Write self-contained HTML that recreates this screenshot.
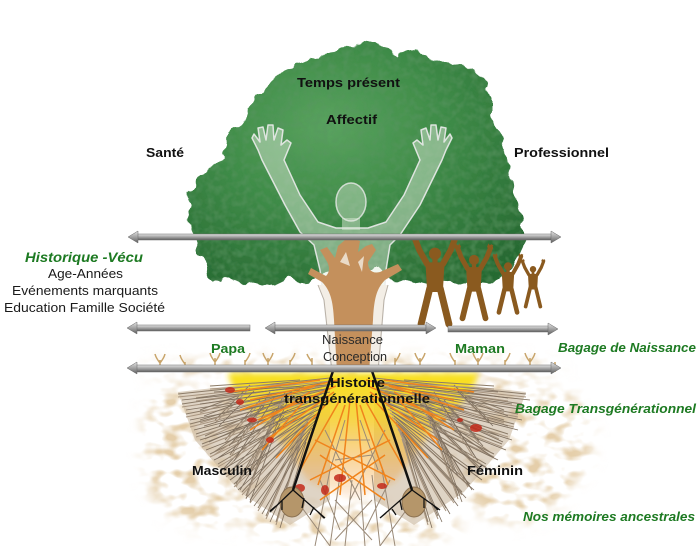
<!DOCTYPE html>
<html><head><meta charset="utf-8"><style>
html,body{margin:0;padding:0;background:#fff;}
svg{display:block;}
text{font-family:"Liberation Sans",Arial,sans-serif;}
</style></head><body>
<svg width="700" height="546" viewBox="0 0 700 546" xmlns="http://www.w3.org/2000/svg">
<defs>
 <radialGradient id="cg" cx="0.42" cy="0.35" r="0.75">
  <stop offset="0" stop-color="#5aa35f"/>
  <stop offset="0.45" stop-color="#3f8c48"/>
  <stop offset="1" stop-color="#286a33"/>
 </radialGradient>
 <linearGradient id="ag" x1="0" y1="0" x2="0" y2="1">
  <stop offset="0" stop-color="#e4e4e4"/>
  <stop offset="0.45" stop-color="#a9a9a9"/>
  <stop offset="1" stop-color="#5e5e5e"/>
 </linearGradient>
 <linearGradient id="yg" x1="0" y1="0" x2="0" y2="1">
  <stop offset="0" stop-color="#f8e11e" stop-opacity="1"/>
  <stop offset="0.35" stop-color="#f6cf24" stop-opacity="0.85"/>
  <stop offset="0.7" stop-color="#f3a830" stop-opacity="0.45"/>
  <stop offset="1" stop-color="#f08a20" stop-opacity="0.1"/>
 </linearGradient>
 <filter id="leaf" filterUnits="userSpaceOnUse" x="150" y="20" width="420" height="290">
  <feTurbulence type="fractalNoise" baseFrequency="0.07" numOctaves="2" seed="2" result="t"/>
  <feDisplacementMap in="SourceGraphic" in2="t" scale="14" xChannelSelector="R" yChannelSelector="G" result="d"/>
  <feTurbulence type="fractalNoise" baseFrequency="0.14" numOctaves="2" seed="5" result="t2"/>
  <feColorMatrix in="t2" type="matrix" values="0 0 0 0 0.1  0 0 0 0 0.3  0 0 0 0 0.12  1.2 0 0 0 -0.45" result="dark"/>
  <feComposite in="dark" in2="d" operator="in" result="dk"/>
  <feMerge><feMergeNode in="d"/><feMergeNode in="dk"/></feMerge>
 </filter>
 <filter id="speck" filterUnits="userSpaceOnUse" x="0" y="300" width="700" height="246">
  <feGaussianBlur in="SourceAlpha" stdDeviation="8" result="m"/>
  <feTurbulence type="fractalNoise" baseFrequency="0.055 0.085" numOctaves="2" seed="7" result="n"/>
  <feColorMatrix in="n" type="matrix" values="0 0 0 0 0.78  0 0 0 0 0.62  0 0 0 0 0.40  4 0 0 0 -1.9" result="s"/>
  <feComposite in="s" in2="m" operator="in"/>
 </filter>
 <filter id="soft" x="-10%" y="-10%" width="120%" height="120%"><feGaussianBlur stdDeviation="3"/></filter>
 <g id="fig">
  <g stroke="#8a5a1f" stroke-linecap="round" stroke-linejoin="round" fill="none">
   <polyline points="-23,1 -18,14 -9,30" stroke-width="7"/>
   <polyline points="23,1 18,14 9,30" stroke-width="7"/>
   <line x1="-6" y1="58" x2="-16" y2="99" stroke-width="8"/>
   <line x1="6" y1="58" x2="16" y2="99" stroke-width="8"/>
  </g>
  <g fill="#8a5a1f">
   <circle cx="0" cy="18" r="7"/>
   <rect x="-3" y="22" width="6" height="8"/>
   <path d="M-11,28 L11,28 L10,45 L9,62 L-9,62 L-10,45 Z"/>
   <path d="M-27,-2 L-24,-4 L-22,-2 L-20,-5 L-18,0 L-22,4 Z"/>
   <path d="M27,-2 L24,-4 L22,-2 L20,-5 L18,0 L22,4 Z"/>
  </g>
 </g>
 <path id="fib" d="M330,378 L178,394 M328,382 L182,404 M326,386 L186,414 M324,390 L190,424 M322,394 L196,434 M320,398 L202,444 M318,402 L210,454 M316,406 L218,464 M314,410 L226,474 M312,414 L234,484 M310,418 L242,492 M308,422 L250,500 M306,426 L258,508 M304,430 L266,516 M302,436 L276,522 M300,380 L210,386 M296,384 L196,398 M292,392 L200,420 M288,398 L205,436 M284,404 L214,452 M280,410 L224,468 M276,418 L236,484 M272,424 L246,496 M250,385 L215,420 M260,400 L225,440 M240,395 L200,410 M270,392 L230,455 M285,392 L250,470
M374,378 L526,394 M376,382 L522,404 M378,386 L518,414 M380,390 L514,424 M382,394 L508,434 M384,398 L502,444 M386,402 L494,454 M388,406 L486,464 M390,410 L478,474 M392,414 L470,484 M394,418 L462,492 M396,422 L454,500 M398,426 L446,508 M400,430 L438,516 M402,436 L428,522 M404,380 L494,386 M408,384 L508,398 M412,392 L504,420 M416,398 L499,436 M420,404 L490,452 M424,410 L480,468 M428,418 L468,484 M432,424 L458,496 M454,385 L489,420 M444,400 L479,440 M464,395 L504,410 M434,392 L474,455 M419,392 L454,470"/>
</defs>

<!-- root speck clouds -->
<g filter="url(#speck)" fill="#000">
 <ellipse cx="205" cy="460" rx="60" ry="68"/>
 <ellipse cx="175" cy="420" rx="30" ry="35"/>
 <ellipse cx="515" cy="450" rx="65" ry="72"/>
 <ellipse cx="560" cy="440" rx="32" ry="48"/>
 <ellipse cx="350" cy="525" rx="110" ry="20"/>
 <ellipse cx="352" cy="368" rx="210" ry="10"/>
</g>

<!-- canopy -->
<path filter="url(#leaf)" fill="url(#cg)" d="M214,283 L206,270 L200,256 L196,242 L190,228 L187,212 L189,198 L194,186 L200,176 L212,168 L222,160 L226,148 L228,135 L236,127 L246,120 L250,108 L256,96 L266,84 L280,74 L290,66 L304,62 L318,58 L326,52 L340,50 L350,46 L362,41 L376,42 L386,48 L396,56 L408,54 L420,52 L432,60 L446,64 L462,66 L476,72 L486,82 L492,96 L492,112 L494,126 L500,138 L506,152 L508,168 L514,184 L516,200 L520,214 L524,228 L524,242 L520,256 L512,266 L504,276 L492,282 L478,280 L466,285 L450,282 L436,286 L420,282 L404,284 L390,278 L378,270 L330,270 L318,280 L300,284 L286,280 L270,285 L256,281 L240,285 L228,280 Z"/>

<!-- ghost figure -->
<path fill="rgba(225,238,220,0.45)" stroke="rgba(235,235,235,0.9)" stroke-width="1.5" stroke-linejoin="round" d="M262,160 L258,150 L252,138 L254,134 L260,142 L258,128 L263,127 L266,140 L268,125 L273,125 L274,140 L278,128 L283,130 L281,145 L287,140 L291,143 L284,160 L300,195 L318,222 L336,228 L368,228 L386,222 L404,195 L420,160 L413,143 L417,140 L423,145 L421,130 L426,128 L430,140 L431,125 L436,125 L438,140 L441,127 L446,128 L444,142 L450,134 L452,138 L446,150 L442,160 L420,205 L400,235 L390,245 L386,270 L384,300 L378,372 L332,372 L324,300 L320,270 L314,245 L300,232 L285,205 Z"/>
<ellipse cx="351" cy="202" rx="15" ry="19" fill="rgba(225,238,220,0.4)" stroke="rgba(235,235,235,0.8)" stroke-width="1.5"/>
<rect x="342" y="218" width="18" height="12" fill="rgba(225,238,220,0.45)"/>
<path d="M318,285 L324,300 L332,372 L378,372 L384,300 L388,285 Z" fill="#f3eee6"/>
<path d="M318,285 L324,300 L332,372 M388,285 L384,300 L378,372" fill="none" stroke="#b8b0a6" stroke-width="1"/>

<!-- trunk -->
<path fill="#c4905c" d="M337,372 L334,320 C333,300 330,290 322,282 L308,274 L311,268 L326,276 C330,272 330,266 326,260 L320,250 L327,247 L335,258 L338,246 L345,240 L352,238 L360,241 L358,252 L366,246 L372,244 L376,250 L368,262 C368,270 372,274 380,272 L398,264 L402,270 L385,280 C377,288 374,298 373,320 L369,372 Z"/>
<path fill="#f4ede4" opacity="0.8" d="M340,262 L346,252 L350,266 Z M358,262 L364,256 L362,272 Z"/>

<!-- brown figures -->
<use href="#fig" transform="translate(435,238) scale(0.87)"/>
<use href="#fig" transform="translate(474,247) scale(0.72)"/>
<use href="#fig" transform="translate(508,256) scale(0.57)"/>
<use href="#fig" transform="translate(533,261) scale(0.46)"/>

<!-- roots: base tone -->
<path fill="#c9b89e" opacity="0.6" d="M330,375 L178,392 L195,440 L240,492 L290,525 L330,500 Z M374,375 L526,392 L509,440 L464,492 L414,525 L374,500 Z"/>
<path fill="url(#yg)" filter="url(#soft)" d="M228,373 L478,373 C474,395 455,410 432,430 L395,482 L352,500 L309,482 L272,430 C250,410 232,395 228,373 Z"/>
<!-- brown fibers -->
<use href="#fib" fill="none" stroke="#8c7c69" stroke-width="1"/>
<use href="#fib" fill="none" stroke="#a89580" stroke-width="1" transform="translate(0,3)"/>
<use href="#fib" fill="none" stroke="#7d6e5e" stroke-width="0.8" transform="translate(4,6)"/>
<path fill="none" stroke="#9a8a78" stroke-width="1" d="M330,470 L315,546 M340,475 L330,546 M352,480 L345,546 M360,480 L365,546 M372,475 L380,546 M382,470 L395,546 M320,480 L340,530 M390,480 L365,530 M300,505 L330,546 M410,505 L380,546 M335,500 L372,540 M372,500 L335,540 M345,420 L330,470 M360,420 L378,470 M340,440 L370,440 M335,460 L372,455 M325,430 L360,500 M385,430 L350,500"/>
<!-- orange fibers -->
<path fill="none" stroke="#f0841c" stroke-width="1.5" d="M338,380 L250,400 M336,386 L258,420 M334,392 L266,440 M332,398 L276,458 M340,400 L300,470 M345,405 L318,485 M350,400 L340,495 M356,400 L365,495 M360,405 L388,485 M365,400 L405,470 M372,398 L428,458 M370,392 L438,440 M368,386 L446,420 M366,380 L454,400 M315,440 L395,480 M390,440 L310,480 M320,455 L385,500 M385,455 L320,500 M320,380 L230,392 M315,386 L240,410 M310,392 L250,430 M305,400 L262,450 M384,380 L474,392 M389,386 L464,410 M394,392 L454,430 M399,400 L442,450"/>
<!-- red patches -->
<g fill="#c42a1a" opacity="0.85">
 <ellipse cx="230" cy="390" rx="5" ry="3"/><ellipse cx="240" cy="402" rx="4" ry="3"/>
 <ellipse cx="252" cy="420" rx="5" ry="2.5"/><ellipse cx="270" cy="440" rx="4" ry="3"/>
 <ellipse cx="300" cy="488" rx="5" ry="4"/><ellipse cx="340" cy="478" rx="6" ry="4"/>
 <ellipse cx="382" cy="486" rx="5" ry="3"/><ellipse cx="476" cy="428" rx="6" ry="4"/>
 <ellipse cx="325" cy="490" rx="4" ry="5"/><ellipse cx="460" cy="420" rx="3" ry="2"/>
</g>
<!-- sprouts along arrow -->
<path fill="none" stroke="#c8a46a" stroke-width="1.5" d="M160,370 L160,360 M160,363 Q156,358 155,354 M160,363 Q164,358 165,354 M185,372 L185,362 M185,364 Q181,359 180,355 M215,370 L215,358 M215,362 Q211,357 210,353 M215,362 Q219,357 220,353 M245,370 L245,360 M245,362 Q249,357 250,353 M268,370 L268,358 M268,362 Q264,357 263,353 M268,362 Q272,357 273,353 M290,370 L290,360 M290,362 Q294,357 295,353 M312,370 L312,358 M312,362 Q308,357 307,354 M395,370 L395,358 M395,362 Q399,357 400,353 M420,370 L420,358 M420,362 Q416,357 415,353 M420,362 Q424,357 425,353 M455,370 L455,360 M455,362 Q451,357 450,353 M478,370 L478,358 M478,362 Q482,357 483,353 M478,362 Q474,357 473,353 M505,370 L505,360 M505,362 Q509,357 510,353 M530,370 L530,358 M530,362 Q526,357 525,353 M530,362 Q534,357 535,353 M555,372 L555,362"/>
<!-- feet -->
<ellipse cx="292" cy="502" rx="12" ry="15" fill="#b5966a" stroke="#8a7050" stroke-width="1"/>
<ellipse cx="414" cy="502" rx="12" ry="15" fill="#b5966a" stroke="#8a7050" stroke-width="1"/>
<!-- black lines -->
<path fill="none" stroke="#111" stroke-width="2.5" d="M333,371 L293,490 M372,371 L412,490"/>
<path fill="none" stroke="#111" stroke-width="1.3" d="M293,490 L270,512 M293,490 L325,518 M282,501 L282,510 M276,506 L270,511 M304,498 L302,508 M314,507 L310,515 M318,512 L324,518 M412,490 L380,518 M412,490 L440,510 M400,501 L402,510 M392,509 L396,515 M386,513 L380,518 M424,498 L424,508 M432,504 L438,510"/>

<!-- arrows -->
<g fill="url(#ag)" stroke="#6a6a6a" stroke-width="0.5">
 <rect x="137" y="234" width="415" height="6"/>
 <polygon points="128,237 138,231 138,243"/>
 <polygon points="561,237 551,231 551,243"/>
 <rect x="136" y="325" width="114" height="6"/>
 <polygon points="127,328 137,322 137,334"/>
 <rect x="274" y="325" width="152" height="6"/>
 <polygon points="265,328 275,322 275,334"/>
 <polygon points="436,328 426,322 426,334"/>
 <rect x="448" y="326" width="101" height="6"/>
 <polygon points="558,329 548,323 548,335"/>
 <rect x="136" y="365" width="416" height="7"/>
 <polygon points="127,368 137,362 137,374"/>
 <polygon points="561,368 551,362 551,374"/>
</g>

<!-- text -->
<g font-weight="bold" fill="#111" font-size="13">
 <text x="297" y="87" textLength="103" lengthAdjust="spacingAndGlyphs">Temps présent</text>
 <text x="326" y="124" textLength="51" lengthAdjust="spacingAndGlyphs">Affectif</text>
 <text x="146" y="157" textLength="38" lengthAdjust="spacingAndGlyphs">Santé</text>
 <text x="514" y="157" textLength="95" lengthAdjust="spacingAndGlyphs">Professionnel</text>
 <text x="330" y="387" textLength="55" lengthAdjust="spacingAndGlyphs">Histoire</text>
 <text x="284" y="403" textLength="146" lengthAdjust="spacingAndGlyphs">transgénérationnelle</text>
 <text x="192" y="475" textLength="60" lengthAdjust="spacingAndGlyphs">Masculin</text>
 <text x="467" y="475" textLength="56" lengthAdjust="spacingAndGlyphs">Féminin</text>
</g>
<g fill="#1d7a22" font-weight="bold" font-size="13">
 <text x="211" y="353" textLength="34" lengthAdjust="spacingAndGlyphs">Papa</text>
 <text x="455" y="353" textLength="50" lengthAdjust="spacingAndGlyphs">Maman</text>
</g>
<g fill="#1d7a22" font-weight="bold" font-style="italic" font-size="12.5">
 <text x="25" y="262" font-size="13.5" textLength="118" lengthAdjust="spacingAndGlyphs">Historique -Vécu</text>
 <text x="558" y="352" textLength="138" lengthAdjust="spacingAndGlyphs">Bagage de Naissance</text>
 <text x="515" y="413" textLength="181" lengthAdjust="spacingAndGlyphs">Bagage Transgénérationnel</text>
 <text x="523" y="521" textLength="172" lengthAdjust="spacingAndGlyphs">Nos mémoires ancestrales</text>
</g>
<g fill="#1a1a1a" font-size="13">
 <text x="48" y="278" textLength="75" lengthAdjust="spacingAndGlyphs">Age-Années</text>
 <text x="12" y="295" textLength="146" lengthAdjust="spacingAndGlyphs">Evénements marquants</text>
 <text x="4" y="312" textLength="161" lengthAdjust="spacingAndGlyphs">Education Famille Société</text>
 <text x="322" y="344" textLength="61" lengthAdjust="spacingAndGlyphs" fill="#2a2a2a">Naissance</text>
 <text x="323" y="361" textLength="64" lengthAdjust="spacingAndGlyphs" fill="#2a2a2a">Conception</text>
</g>
</svg>
</body></html>
